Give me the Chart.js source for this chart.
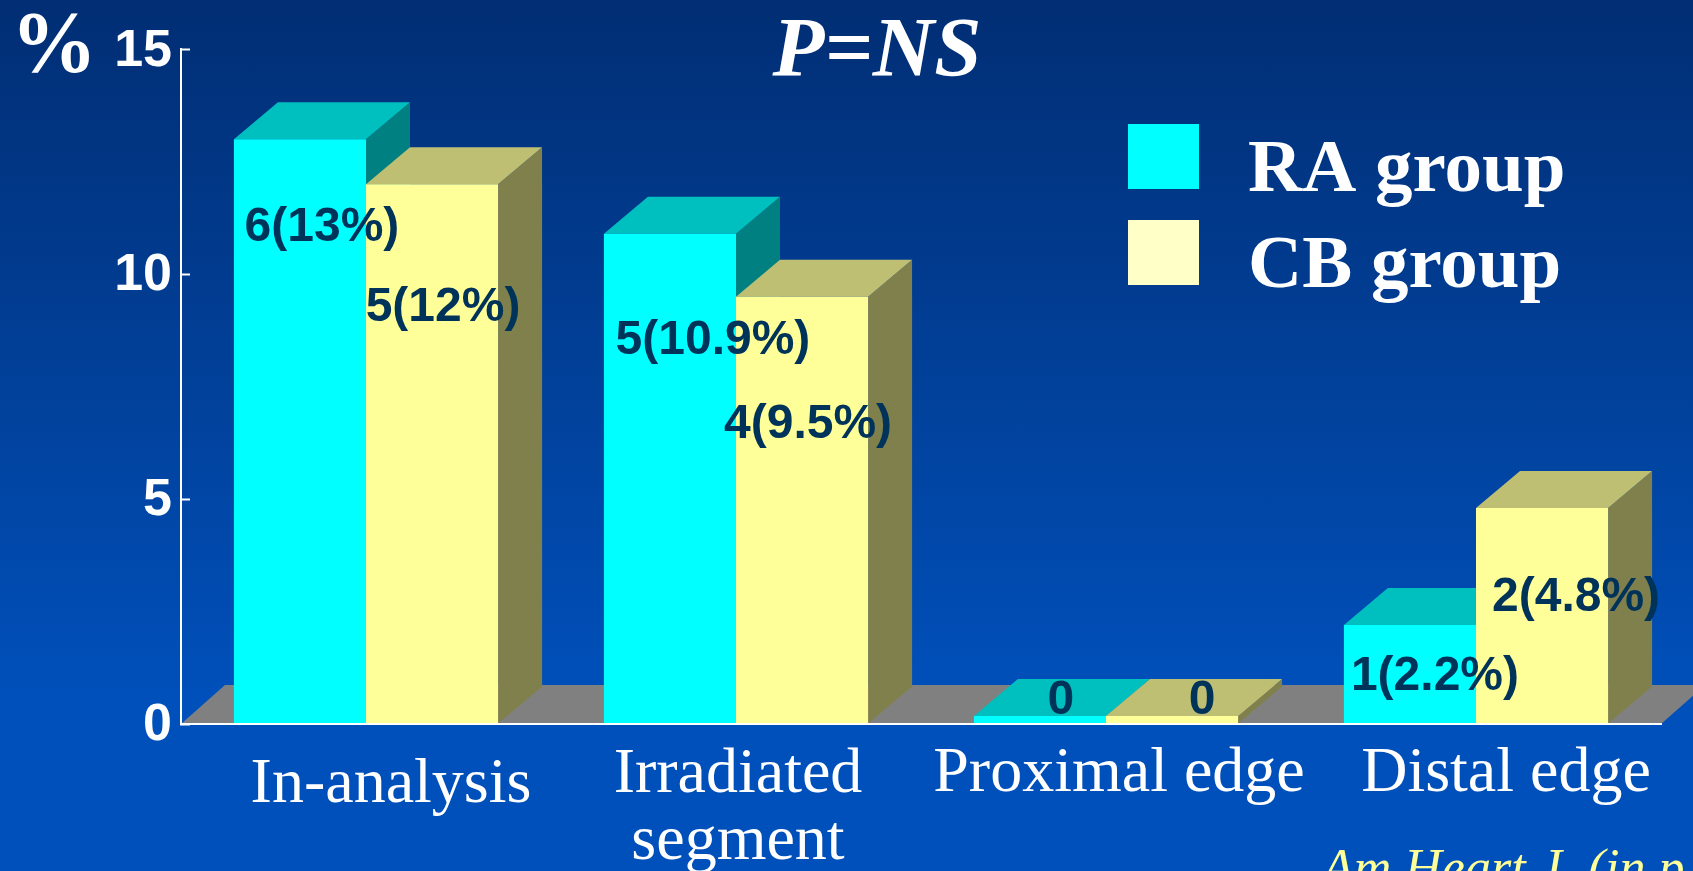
<!DOCTYPE html>
<html>
<head>
<meta charset="utf-8">
<title>RA group vs CB group</title>
<script src="https://cdn.jsdelivr.net/npm/chart.js@4"></script>
<style>
  html, body { margin: 0; padding: 0; width: 1693px; height: 871px; overflow: hidden; }
  body { background: linear-gradient(180deg, #012e74 0%, #01439f 50%, #0050bb 80%, #0050bb 100%); }
  canvas { display: block; }
</style>
</head>
<body>
<canvas id="restenosisChart" width="1693" height="871"></canvas>
<script>
const categories = ['In-analysis', ['Irradiated', 'segment'], 'Proximal edge', 'Distal edge'];
const raValues = [13, 10.9, 0, 2.2];
const cbValues = [12, 9.5, 0, 4.8];
const raLabels = ['6(13%)', '5(10.9%)', '0', '1(2.2%)'];
const cbLabels = ['5(12%)', '4(9.5%)', '0', '2(4.8%)'];
const yTicks = [0, 5, 10, 15];

// label nudges relative to the top centre of each bar
const raLabelShift = [[22, 89], [43, 107], [21, -15], [25, 52]];
const cbLabelShift = [[11, 124], [6, 128], [30, -15], [34, 90]];
// category label nudges: x from group centre, y of first baseline from the axis
const catLabelShift = [[25, 78], [2, 68], [13, 67], [30, 67]];

const SERIF = '"Liberation Serif", "Times New Roman", serif';
const SANS = '"Liberation Sans", Arial, sans-serif';
const DEPTH_X = 44;
const DEPTH_Y = 37;

function poly(ctx, color, pts) {
  ctx.fillStyle = color;
  ctx.beginPath();
  pts.forEach((p, i) => (i ? ctx.lineTo(p[0], p[1]) : ctx.moveTo(p[0], p[1])));
  ctx.closePath();
  ctx.fill();
}

function text(ctx, str, x, y, font, color, align) {
  ctx.font = font;
  ctx.fillStyle = color;
  ctx.textAlign = align || 'left';
  ctx.textBaseline = 'alphabetic';
  ctx.fillText(str, x, y);
}

// fake 3D: floor plus top and side faces, painted behind the flat bars
const depthPlugin = {
  id: 'depth',
  beforeDatasetsDraw(chart) {
    const { ctx, chartArea: a } = chart;
    ctx.save();
    poly(ctx, '#808080', [
      [a.left, a.bottom], [a.right, a.bottom],
      [a.right + DEPTH_X, a.bottom - DEPTH_Y - 2], [a.left + DEPTH_X, a.bottom - DEPTH_Y - 2]
    ]);
    chart.data.datasets.forEach((ds, d) => {
      chart.getDatasetMeta(d).data.forEach((bar) => {
        const l = bar.x - bar.width / 2;
        const r = bar.x + bar.width / 2;
        poly(ctx, ds.sideColor, [
          [r, bar.y], [r + DEPTH_X, bar.y - DEPTH_Y],
          [r + DEPTH_X, bar.base - DEPTH_Y], [r, bar.base]
        ]);
        poly(ctx, ds.topColor, [
          [l, bar.y], [r, bar.y],
          [r + DEPTH_X, bar.y - DEPTH_Y], [l + DEPTH_X, bar.y - DEPTH_Y]
        ]);
      });
    });
    ctx.restore();
  }
};

const textPlugin = {
  id: 'slideText',
  afterDraw(chart) {
    const { ctx, chartArea: a, scales } = chart;
    ctx.save();

    // value labels
    chart.data.datasets.forEach((ds, d) => {
      chart.getDatasetMeta(d).data.forEach((bar, i) => {
        const s = ds.labelShift[i];
        ctx.font = 'bold 48px ' + SANS;
        ctx.fillStyle = '#00335a';
        ctx.textAlign = 'center';
        ctx.textBaseline = 'middle';
        ctx.fillText(ds.valueLabels[i], bar.x + s[0], bar.y + s[1]);
      });
    });

    // category labels
    categories.forEach((cat, i) => {
      const lines = Array.isArray(cat) ? cat : [cat];
      const x = scales.x.getPixelForTick(i) + catLabelShift[i][0];
      lines.forEach((line, n) => {
        text(ctx, line, x, a.bottom + catLabelShift[i][1] + n * 67, '64px ' + SERIF, '#ffffff', 'center');
      });
    });

    // legend
    chart.data.datasets.forEach((ds, d) => {
      const top = 124 + d * 96;
      ctx.fillStyle = d ? '#ffffc8' : ds.backgroundColor;
      ctx.fillRect(1128, top, 71, 65);
      text(ctx, ds.label, 1248, top + 67, 'bold 75px ' + SERIF, '#ffffff');
    });

    text(ctx, 'P=NS', 877, 76, 'italic bold 85px ' + SERIF, '#ffffff', 'center');
    text(ctx, '%', 11, 71, 'bold 86px ' + SERIF, '#ffffff');
    text(ctx, 'Am Heart J. (in p', 1322, 885, 'italic 52px ' + SERIF, '#ffff99');
    ctx.restore();
  }
};

new Chart(document.getElementById('restenosisChart'), {
  type: 'bar',
  data: {
    labels: categories,
    datasets: [
      {
        label: 'RA group',
        data: raValues,
        backgroundColor: '#00ffff',
        topColor: '#00bfbf',
        sideColor: '#008080',
        valueLabels: raLabels,
        labelShift: raLabelShift
      },
      {
        label: 'CB group',
        data: cbValues,
        backgroundColor: '#ffff99',
        topColor: '#bfbf73',
        sideColor: '#80804d',
        valueLabels: cbLabels,
        labelShift: cbLabelShift
      }
    ]
  },
  options: {
    responsive: false,
    animation: false,
    // zero bars still show a thin slab
    minBarLength: 8,
    categoryPercentage: 0.714,
    barPercentage: 1,
    layout: { padding: { top: 48, right: 32, bottom: 147, left: 0 } },
    plugins: { legend: { display: false }, tooltip: { enabled: false } },
    scales: {
      x: {
        grid: { drawOnChartArea: false, drawTicks: false },
        border: { color: '#ffffff', width: 2, z: 1 },
        ticks: { display: false },
        afterFit(scale) { scale.height = 0; }
      },
      y: {
        min: 0,
        max: 15,
        afterBuildTicks(scale) { scale.ticks = yTicks.map((v) => ({ value: v })); },
        grid: { drawOnChartArea: false, tickLength: -9, tickWidth: 2, tickColor: '#ffffff' },
        border: { color: '#ffffff', width: 2, z: 1 },
        ticks: {
          color: '#ffffff',
          padding: 18,
          labelOffset: 2,
          font: { family: SANS, size: 52, weight: 'bold' }
        },
        afterFit(scale) { scale.width = 181; }
      }
    }
  },
  plugins: [depthPlugin, textPlugin]
});
</script>
</body>
</html>
